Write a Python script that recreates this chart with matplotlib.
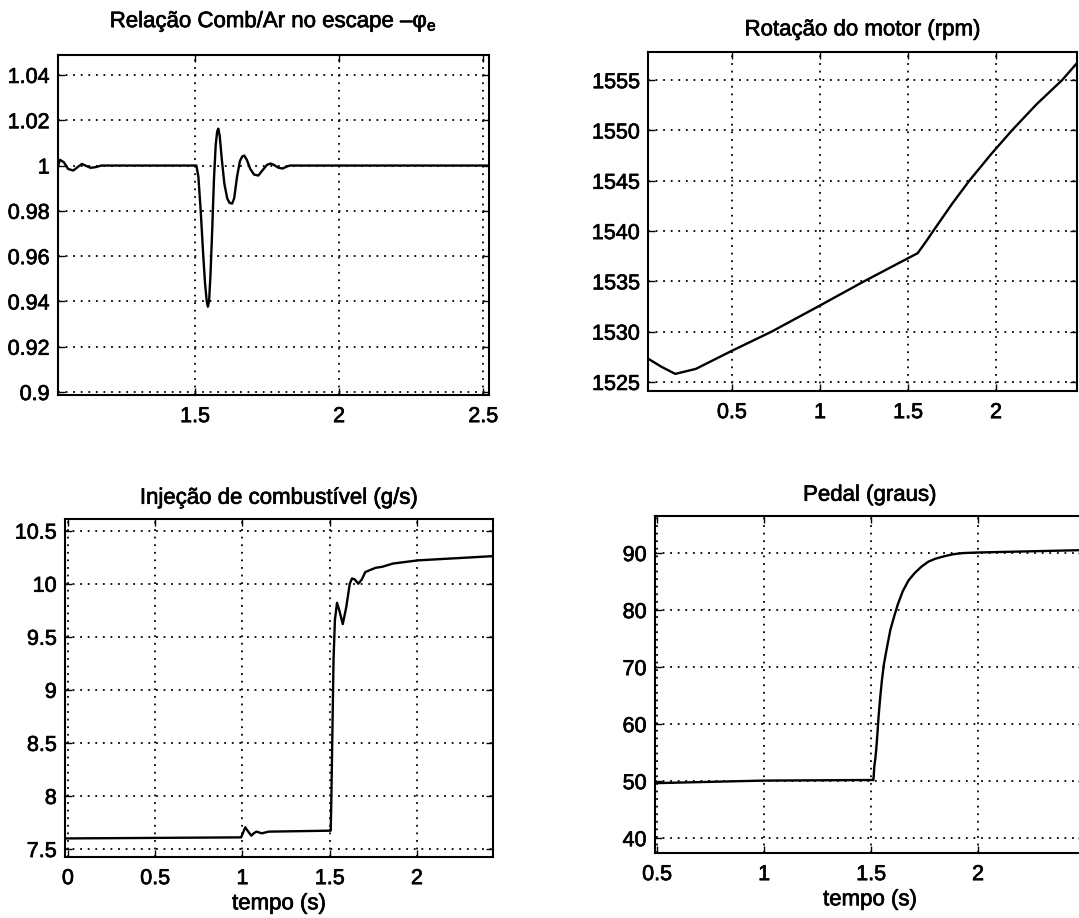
import matplotlib
matplotlib.use('Agg')
import matplotlib.pyplot as plt
import matplotlib.patheffects as pe

plt.rcParams.update({
    'font.family': ['Liberation Sans', 'DejaVu Sans'],
    'mathtext.fontset': 'custom',
    'mathtext.rm': 'Liberation Sans',
    'mathtext.it': 'Liberation Sans',
    'font.size': 15,
    'axes.linewidth': 1.5,
})

# ---- phi_e (fuel/air ratio at exhaust) ----
t_phi = [1.025, 1.032, 1.045, 1.060, 1.078, 1.095, 1.108, 1.125, 1.138, 1.156, 1.175,
         1.505, 1.512, 1.520, 1.528, 1.535, 1.541, 1.545, 1.549, 1.554, 1.560, 1.566,
         1.572, 1.577, 1.581, 1.586, 1.593, 1.602, 1.612, 1.620, 1.629, 1.636, 1.646,
         1.656, 1.664, 1.671, 1.680, 1.692, 1.705, 1.720, 1.735, 1.750, 1.762, 1.775,
         1.790, 1.804, 1.818, 1.829, 2.520]
phi = [1.000, 1.0025, 1.0015, 0.9985, 0.9978, 0.9995, 1.0007, 0.9997, 0.9990, 0.9993, 1.000,
       1.000, 0.995, 0.980, 0.962, 0.948, 0.940, 0.9377, 0.940, 0.952, 0.972, 0.994,
       1.009, 1.0150, 1.0163, 1.013, 1.003, 0.992, 0.9855, 0.9835, 0.9832, 0.9855, 0.9950,
       1.002, 1.0040, 1.0044, 1.0025, 0.9985, 0.9960, 0.9956, 0.9980, 1.0003, 1.0009, 1.0002,
       0.9990, 0.9987, 0.9995, 1.000, 1.000]

# ---- engine speed (rpm) ----
t_rpm = [0.025, 0.10, 0.178, 0.295, 0.50, 0.725, 1.00, 1.25, 1.50, 1.555,
         1.600, 1.643, 1.750, 1.848, 1.970, 2.090, 2.230, 2.375, 2.460]
rpm = [1527.3, 1526.5, 1525.8, 1526.3, 1528.1, 1530.0, 1532.6, 1535.0, 1537.3, 1537.8,
       1538.9, 1540.0, 1542.7, 1545.0, 1547.6, 1550.0, 1552.6, 1555.0, 1556.7]

# ---- fuel injection (g/s) ----
t_fuel = [-0.016, 0.50, 0.992, 1.000, 1.016, 1.035, 1.051, 1.066, 1.081, 1.111, 1.150,
          1.500, 1.506, 1.510, 1.516, 1.522, 1.530, 1.542, 1.555, 1.575, 1.595, 1.615,
          1.628, 1.644, 1.664, 1.684, 1.704, 1.733, 1.763, 1.802, 1.862, 2.004, 2.435]
fuel = [7.600, 7.605, 7.610, 7.640, 7.705, 7.660, 7.626, 7.650, 7.664, 7.648, 7.664,
        7.673, 7.673, 8.020, 8.650, 9.280, 9.660, 9.820, 9.750, 9.620, 9.780, 10.00,
        10.05, 10.04, 10.00, 10.04, 10.11, 10.13, 10.15, 10.16, 10.19, 10.22, 10.26]

# ---- pedal (degrees) ----
t_ped = [0.492, 1.000, 1.508, 1.511, 1.515, 1.520, 1.524, 1.530, 1.535, 1.543, 1.551,
         1.560, 1.575, 1.590, 1.608, 1.625, 1.648, 1.675, 1.704, 1.735, 1.768, 1.800,
         1.848, 1.885, 1.929, 2.000, 2.470]
pedal = [49.65, 50.10, 50.20, 50.20, 52.50, 54.00, 55.50, 58.50, 61.30, 64.80, 67.80,
         70.50, 73.60, 76.50, 78.90, 81.00, 83.30, 85.20, 86.50, 87.60, 88.50, 89.00,
         89.50, 89.80, 90.00, 90.10, 90.50]

W, H = 1079, 918
fig = plt.figure(figsize=(W / 100, H / 100), dpi=100)
thick = [pe.withStroke(linewidth=0.5, foreground='black')]


def box(l, r, t, b):
    # pixel edges -> figure fraction
    return [l / W, 1 - b / H, (r - l) / W, (b - t) / H]


panels = [
    dict(pos=box(58, 489, 55, 395), x=t_phi, y=phi, xlim=(1.025, 2.52), ylim=(0.8987, 1.0488),
         xt=[1.5, 2, 2.5], xtl=['1.5', '2', '2.5'],
         yt=[0.9, 0.92, 0.94, 0.96, 0.98, 1.0, 1.02, 1.04],
         ytl=['0.9', '0.92', '0.94', '0.96', '0.98', '1', '1.02', '1.04'],
         title=r'Relação Comb/Ar no escape –$\mathrm{\varphi_e}$', pad=20, xlabel=None),
    dict(pos=box(648, 1077, 52, 391), x=t_rpm, y=rpm, xlim=(0.023, 2.46), ylim=(1524.1, 1557.8),
         xt=[0.5, 1, 1.5, 2], xtl=['0.5', '1', '1.5', '2'],
         yt=[1525, 1530, 1535, 1540, 1545, 1550, 1555],
         ytl=['1525', '1530', '1535', '1540', '1545', '1550', '1555'],
         title='Rotação do motor (rpm)', pad=12, xlabel=None),
    dict(pos=box(65, 493, 519, 857), x=t_fuel, y=fuel, xlim=(-0.017, 2.436), ylim=(7.425, 10.61),
         xt=[0, 0.5, 1, 1.5, 2], xtl=['0', '0.5', '1', '1.5', '2'],
         yt=[7.5, 8, 8.5, 9, 9.5, 10, 10.5],
         ytl=['7.5', '8', '8.5', '9', '9.5', '10', '10.5'],
         title='Injeção de combustível (g/s)', pad=11, xlabel='tempo (s)'),
    dict(pos=box(655, 1085, 516, 853), x=t_ped, y=pedal, xlim=(0.49, 2.5), ylim=(37.4, 96.5),
         xt=[0.5, 1, 1.5, 2], xtl=['0.5', '1', '1.5', '2'],
         yt=[40, 50, 60, 70, 80, 90],
         ytl=['40', '50', '60', '70', '80', '90'],
         title='Pedal (graus)', pad=11, xlabel='tempo (s)'),
]

for p in panels:
    ax = fig.add_axes(p['pos'])
    ax.plot(p['x'], p['y'], color='black', lw=1.7, solid_joinstyle='round')
    ax.set_xlim(*p['xlim'])
    ax.set_ylim(*p['ylim'])
    ax.set_xticks(p['xt'])
    ax.set_xticklabels(p['xtl'])
    ax.set_yticks(p['yt'])
    ax.set_yticklabels(p['ytl'])
    ax.grid(True, color='black', linestyle=(0, (1, 3.2)), linewidth=1.3)
    ax.tick_params(direction='in', length=5, width=1, top=True, right=True,
                   labelsize=15.5, pad=6)
    ax.tick_params(axis='x', pad=8)
    for lab in ax.get_xticklabels() + ax.get_yticklabels():
        lab.set_path_effects(thick)
    ax.set_title(p['title'], fontsize=16, pad=p['pad'], path_effects=thick)
    if p['xlabel']:
        ax.set_xlabel(p['xlabel'], fontsize=16, labelpad=3, path_effects=thick)

fig.savefig('out.png', dpi=100)
